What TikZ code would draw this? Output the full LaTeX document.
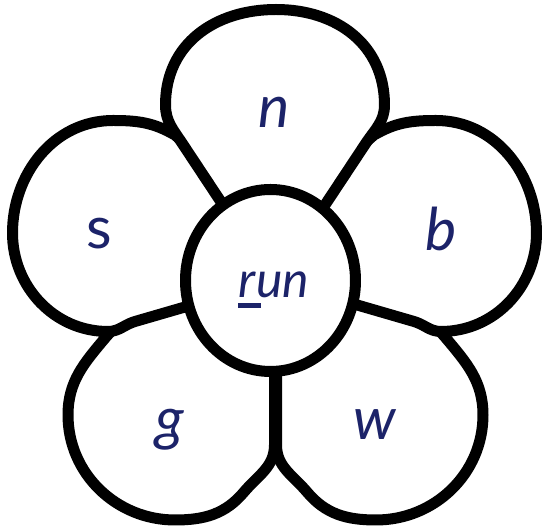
\documentclass[tikz,border=0pt]{standalone}
\usepackage{fontspec}
\setmainfont{Lato}
\definecolor{ink}{RGB}{28,35,105}
\begin{document}
\begin{tikzpicture}[x=1pt,y=1pt,
  petal/.style={draw=black, fill=white, line width=11pt, line join=round},
  letter/.style={text=ink, font=\fontsize{59}{60}\selectfont\itshape, inner sep=0pt, anchor=base}]
\useasboundingbox (0,0) rectangle (542,527);
\fill[white] (0,0) rectangle (542,527);
% petal g (bottom left)
\path[petal] (274.5,{527-282}) -- (274.5,{527-445})
  to[out=270,in=50] (244,{527-492})
  to[out=230,in=0] (175,{527-520})
  to[out=180,in=270] (68,{527-415})
  to[out=90,in=230] (106,{527-337})
  to[out=50,in=200] (175,{527-300}) -- cycle;
% petal w (bottom right)
\path[petal] (276.5,{527-282}) -- (276.5,{527-445})
  to[out=270,in=130] (307,{527-492})
  to[out=-50,in=180] (376,{527-520})
  to[out=0,in=270] (483,{527-415})
  to[out=90,in=-50] (445,{527-337})
  to[out=130,in=-20] (376,{527-300}) -- cycle;
% petal s (upper left)
\path[petal] (271,{527-282}) -- (135,{527-321.5})
  to[out=196.2,in=0] (108,{527-331.5})
  to[out=180,in=270] (12.5,{527-233})
  to[out=90,in=180] (113,{527-120.5})
  to[out=0,in=150] (175,{527-135})
  -- (215,{527-170}) -- cycle;
% petal b (upper right)
\path[petal] (278,{527-282}) -- (414,{527-321.5})
  to[out=-16.2,in=180] (441,{527-331.5})
  to[out=0,in=270] (536.5,{527-233})
  to[out=90,in=0] (436,{527-120.5})
  to[out=180,in=30] (374,{527-135})
  -- (334,{527-170}) -- cycle;
% petal n (top)
\path[petal] (274,{527-282}) -- (182,{527-143})
  to[out=123.5,in=270] (165.5,{527-105})
  to[out=90,in=180,looseness=1.07] (276,{527-9.5})
  to[out=0,in=90,looseness=1.07] (384.5,{527-105})
  to[out=270,in=56.5] (366,{527-143}) -- cycle;
% centre
\draw[petal] (270.5,{527-280.5}) ellipse [x radius=85, y radius=91];
% letters
\node[letter] (ln) at (274,{527-128}) {n};
\node[letter, font=\fontsize{59}{60}\selectfont] (ls) at (99,{527-249}) {s};
\node[letter] (lb) at (441,{527-251}) {b};
\node[letter] (lg) at (170,{527-440}) {g};
\node[letter] (lw) at (375,{527-440}) {w};
\node[letter, font=\fontsize{50}{51}\selectfont\itshape] (lrun) at (274,{527-298})
  {\rlap{\kern-1pt\rule[-10.3pt]{23pt}{5.6pt}}run};
\end{tikzpicture}
\end{document}
